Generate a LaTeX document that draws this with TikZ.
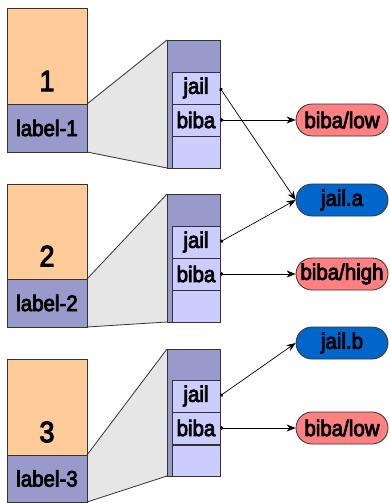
\documentclass[tikz,border=0pt]{standalone}
\usepackage{fontspec}
\setmainfont{Liberation Sans}
\newfontfamily\diagfont[FakeStretch=0.91,FakeBold=3.6]{Liberation Sans}
\usetikzlibrary{arrows.meta,backgrounds}
\definecolor{peach}{HTML}{FFCC99}
\definecolor{lav}{HTML}{9999CC}
\definecolor{cellc}{HTML}{CCCCFF}
\definecolor{trapc}{HTML}{E6E6E6}
\definecolor{redo}{HTML}{FF8080}
\definecolor{blueo}{HTML}{0066CC}
\definecolor{edgec}{HTML}{333333}
\begin{document}
\begin{tikzpicture}[x=1pt,y=-1pt,
  txt/.style={font=\diagfont\fontsize{22.5}{22.5}\selectfont},
  box/.style={draw=edgec, line width=0.8pt, inner sep=0pt, outer sep=0pt},
  numbox/.style={box, fill=peach, minimum width=80pt},
  labbox/.style={box, fill=lav, minimum width=80pt, minimum height=48pt, txt},
  numtxt/.style={inner sep=0pt, font=\diagfont\fontsize{29.5}{29.5}\selectfont},
  stackbox/.style={box, fill=lav, minimum width=53pt, minimum height=128pt},
  cellbox/.style={box, fill=cellc, minimum width=48pt, minimum height=32pt, txt},
  oval/.style={draw=edgec, line width=0.8pt, rounded corners=16pt, minimum width=92pt, minimum height=32pt, inner sep=0pt, txt},
  link/.style={draw=black, line width=0.7pt, {Circle[length=3.5pt]}-{Stealth[length=9pt,width=7pt]}},
  trap/.style={fill=trapc},
  trapline/.style={draw=edgec, line width=0.8pt}
]
\useasboundingbox (0,0) rectangle (389,503);

% group 1
\node[numbox, minimum height=96pt] (num1) at (47,56) {};
\node[numtxt] (n1) at (47,81) {1};
\node[labbox] (lab1) at (47,128) {label-1};
\node[stackbox] (stack1) at (193.5,104) {};
\node[cellbox] (jail1) at (196,88) {jail};
\node[cellbox] (biba1) at (196,120) {biba};
\node[cellbox] (empty1) at (196,152) {};

% group 2
\node[numbox, minimum height=95pt] (num2) at (47,231.5) {};
\node[numtxt] (n2) at (47,256) {2};
\node[labbox] (lab2) at (47,303) {label-2};
\node[stackbox] (stack2) at (193.5,258) {};
\node[cellbox] (jail2) at (196,242) {jail};
\node[cellbox] (biba2) at (196,274) {biba};
\node[cellbox] (empty2) at (196,306) {};

% group 3
\node[numbox, minimum height=96pt] (num3) at (47,407) {};
\node[numtxt] (n3) at (47,432) {3};
\node[labbox, minimum height=47pt] (lab3) at (47,478.5) {label-3};
\node[stackbox, minimum height=127pt] (stack3) at (193.5,412.5) {};
\node[cellbox] (jail3) at (196,396) {jail};
\node[cellbox] (biba3) at (196,428) {biba};
\node[cellbox, minimum height=31pt] (empty3) at (196,460.5) {};

% trapezoids
\begin{scope}[on background layer]
  \fill[trap] (lab1.north east) -- (stack1.north west) -- (stack1.south west) -- (lab1.south east) -- cycle;
  \fill[trap] (lab2.north east) -- (stack2.north west) -- (stack2.south west) -- (lab2.south east) -- cycle;
  \fill[trap] (lab3.north east) -- (stack3.north west) -- (stack3.south west) -- (lab3.south east) -- cycle;
\end{scope}
\draw[trapline] (lab1.north east) -- (stack1.north west);
\draw[trapline] (lab1.south east) -- (stack1.south west);
\draw[trapline] (lab2.north east) -- (stack2.north west);
\draw[trapline] (lab2.south east) -- (stack2.south west);
\draw[trapline] (lab3.north east) -- (stack3.north west);
\draw[trapline] (lab3.south east) -- (stack3.south west);

% ovals
\node[oval, fill=redo] (low1) at (342,120) {biba/low};
\node[oval, fill=blueo] (jaila) at (342,200) {jail.a};
\node[oval, fill=redo] (high) at (342,274) {biba/high};
\node[oval, fill=blueo] (jailb) at (342,343) {jail.b};
\node[oval, fill=redo] (low3) at (342,428) {biba/low};

% links
\draw[link] (jail1.east) -- (jaila.west);
\draw[link] (biba1.east) -- (low1.west);
\draw[link] (jail2.east) -- (jaila.west);
\draw[link] (biba2.east) -- (high.west);
\draw[link] (jail3.east) -- (jailb.west);
\draw[link] (biba3.east) -- (low3.west);
\end{tikzpicture}
\end{document}
